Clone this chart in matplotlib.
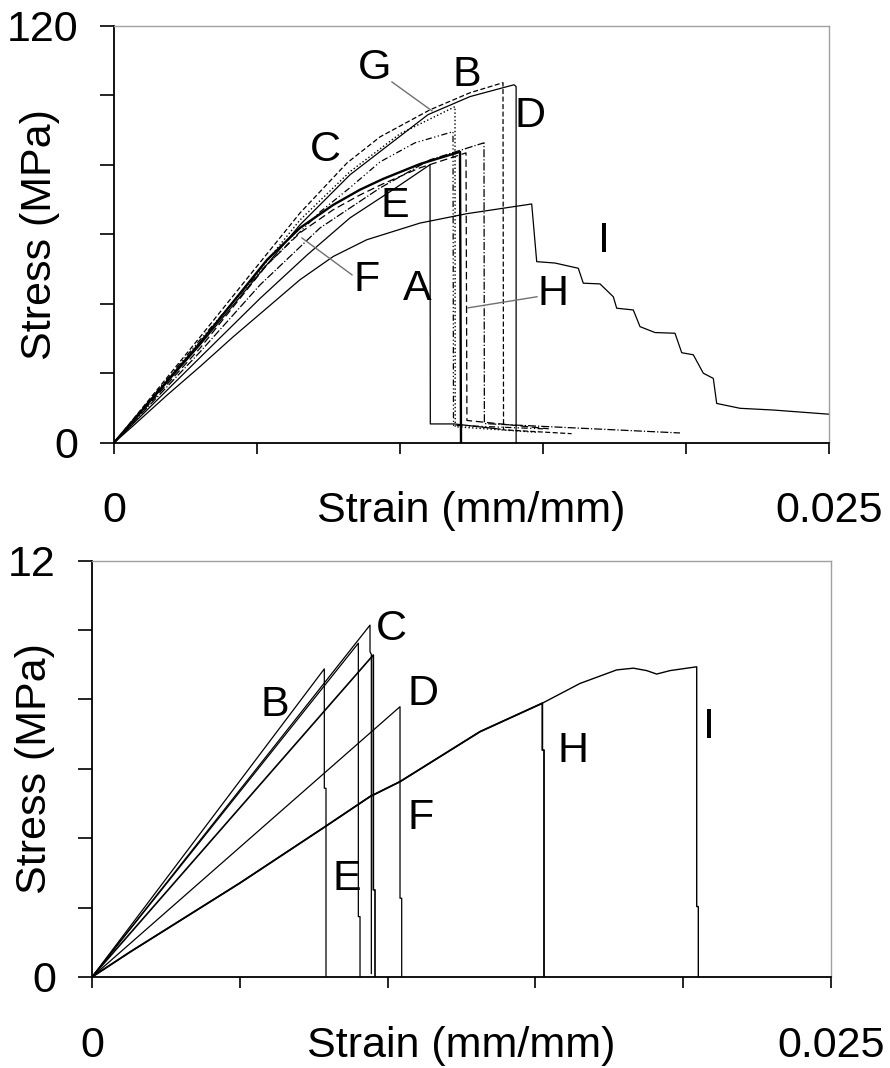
import matplotlib
matplotlib.use("Agg")
import matplotlib.pyplot as plt

plt.rcParams['font.family'] = ['Liberation Sans', 'DejaVu Sans']

# ---- top chart: stress-strain curves (strain mm/mm, stress MPa) ----
top_A_strain = [0, 0.003007, 0.005105, 0.006748, 0.008252, 0.009755, 0.011049, 0.011060, 0.011900, 0.013500]
top_A_stress = [0, 24.5, 41.5, 54.0, 64.7, 72.8, 80.0, 5.4, 5.4, 3.9]
top_B_strain = [0, 0.003007, 0.004755, 0.006503, 0.008252, 0.010000, 0.011923, 0.011930, 0.014800]
top_B_stress = [0, 29.0, 46.2, 64.1, 78.0, 88.9, 96.7, 4.6, 3.0]
top_C_strain = [0, 0.003007, 0.004755, 0.006503, 0.008147, 0.009301, 0.011049, 0.012448, 0.013601, 0.013620, 0.016000]
top_C_stress = [0, 30.4, 48.3, 66.1, 80.5, 88.0, 95.8, 100.7, 103.6, 3.7, 2.6]
top_D_strain = [0, 0.003007, 0.004755, 0.006503, 0.008252, 0.010979, 0.012448, 0.013986, 0.014060, 0.014060]
top_D_stress = [0, 28.1, 45.4, 62.7, 77.1, 94.4, 99.6, 103.0, 102.5, 0]
top_E_strain = [0, 0.003007, 0.005350, 0.006503, 0.007657, 0.008601, 0.009406, 0.010699, 0.012098, 0.012133]
top_E_stress = [0, 28.7, 52.6, 61.8, 68.4, 72.8, 75.9, 80.2, 83.7, 0]
top_F_strain = [0, 0.003007, 0.005105, 0.007203, 0.009301, 0.011049, 0.012937, 0.012950, 0.019790]
top_F_stress = [0, 26.1, 45.4, 61.8, 73.3, 81.4, 86.3, 5.5, 2.8]
top_G_strain = [0, 0.003007, 0.005105, 0.007203, 0.008252, 0.009301, 0.010524, 0.011853, 0.011870, 0.015000]
top_G_stress = [0, 29.6, 49.2, 66.4, 73.4, 80.8, 86.3, 89.5, 5.0, 4.0]
top_H_strain = [0, 0.003007, 0.005350, 0.006503, 0.007657, 0.008601, 0.009406, 0.010699, 0.012308,
                0.012340, 0.014000, 0.015200]
top_H_stress = [0, 27.2, 51.2, 60.4, 67.0, 71.3, 74.5, 79.1, 83.4, 6.4, 5.0, 4.0]
top_I_strain = [0, 0.000675, 0.001843, 0.003007, 0.004171, 0.005339, 0.006503, 0.007668, 0.008836,
                0.010699, 0.012332, 0.014605, 0.014780, 0.015420, 0.016234, 0.016409, 0.016993,
                0.017458, 0.017577, 0.018157, 0.018392, 0.018916, 0.019615, 0.019850, 0.020255,
                0.020605, 0.020955, 0.021073, 0.021888, 0.023052, 0.025000]
top_I_stress = [0, 4.9, 13.6, 21.9, 30.5, 38.7, 46.9, 53.6, 58.4,
                63.2, 65.9, 68.7, 52.1, 51.7, 50.2, 45.9, 45.7,
                42.0, 38.7, 38.2, 33.4, 31.7, 31.5, 25.9, 25.3,
                20.0, 18.5, 11.3, 9.9, 9.4, 8.2]

top_labels = ['G', 'B', 'C', 'D', 'E', 'F', 'A', 'H', 'I']
top_label_x = [0.009126, 0.012343, 0.007378, 0.014545, 0.009825, 0.008846, 0.010594, 0.015350, 0.017133]
top_label_y = [107.9, 105.9, 84.3, 94.1, 68.2, 46.9, 44.3, 42.8, 58.1]

# leader lines (from, to)
top_leader_x = [(0.009720, 0.011119), (0.006573, 0.008322), (0.012378, 0.014790)]
top_leader_y = [(103.8, 95.5), (58.9, 48.3), (38.8, 42.0)]

# ---- bottom chart ----
bot_B_strain = [0, 0.007859, 0.007859, 0.007916, 0.007916]
bot_B_stress = [0, 8.88, 5.44, 5.44, 0]
bot_C_strain = [0, 0.009405, 0.009405, 0.009450, 0.009450]
bot_C_stress = [0, 10.14, 9.37, 9.30, 0.1]
bot_E_strain = [0, 0.009010, 0.009010, 0.009067, 0.009067]
bot_E_stress = [0, 9.62, 1.74, 1.74, 0]
bot_F_strain = [0, 0.009517, 0.009517, 0.009574, 0.009574]
bot_F_stress = [0, 9.28, 2.51, 2.51, 0]
bot_D_strain = [0, 0.010420, 0.010420, 0.010477, 0.010477]
bot_D_stress = [0, 7.79, 2.27, 2.27, 0]
bot_H_strain = [0, 0.001286, 0.005007, 0.007882, 0.009405, 0.010420, 0.013126, 0.015234,
                0.015234, 0.015291, 0.015291]
bot_H_stress = [0, 0.72, 2.71, 4.33, 5.20, 5.63, 7.07, 7.89, 6.54, 6.54, 0]
bot_I_strain = [0, 0.001286, 0.005007, 0.007882, 0.009405, 0.010420, 0.013126, 0.015234,
                0.016509, 0.017750, 0.018313, 0.018765, 0.019103, 0.019554, 0.020457,
                0.020457, 0.020511, 0.020511]
bot_I_stress = [0, 0.72, 2.71, 4.33, 5.20, 5.63, 7.07, 7.89,
                8.46, 8.85, 8.90, 8.83, 8.73, 8.83, 8.94,
                2.03, 2.03, 0]

bot_labels = ['B', 'C', 'D', 'E', 'F', 'H', 'I']
bot_label_x = [0.006191, 0.010115, 0.011198, 0.008627, 0.011130, 0.016272, 0.020873]
bot_label_y = [7.84, 10.03, 8.16, 2.82, 4.58, 6.51, 7.20]

FS = 31

fig = plt.figure(figsize=(8.9, 10.68), dpi=100)
ax1 = fig.add_axes([114/890, 1 - 442.7/1068, 715/890, 417/1068])
ax2 = fig.add_axes([92/890, 1 - 977/1068, 739/890, 416.4/1068])


def style_axes(ax, ymax, ystep, ylabx):
    ax.set_xlim(0, 0.025)
    ax.set_ylim(0, ymax)
    ax.spines['left'].set_color('black')
    ax.spines['bottom'].set_color('black')
    ax.spines['left'].set_linewidth(1.3)
    ax.spines['bottom'].set_linewidth(1.3)
    ax.spines['top'].set_color('#a0a0a0')
    ax.spines['right'].set_color('#a0a0a0')
    ax.spines['top'].set_linewidth(1.0)
    ax.spines['right'].set_linewidth(1.0)
    xt = [i * 0.005 for i in range(6)]
    ax.set_xticks(xt)
    ax.set_xticklabels(['0', '', '', '', '', '0.025'])
    yt = [i * ystep for i in range(7)]
    ax.set_yticks(yt)
    ax.set_yticklabels(['0', '', '', '', '', '', str(ymax)])
    ax.tick_params(axis='x', direction='out', length=8, width=1.2, pad=27, labelsize=FS)
    ax.tick_params(axis='y', direction='out', length=10, width=1.2, pad=16, labelsize=FS)
    ax.set_xlabel('Strain (mm/mm)', fontsize=FS)
    ax.xaxis.set_label_coords(0.5, -0.1165)
    ax.set_ylabel('Stress (MPa)', fontsize=FS)
    ax.yaxis.set_label_coords(ylabx, 0.5)


style_axes(ax1, 120, 20, -0.075)
style_axes(ax2, 12, 2, -0.05)

k = 'black'
ax1.plot(top_A_strain, top_A_stress, color=k, lw=0.9, ls='-')
ax1.plot(top_B_strain, top_B_stress, color=k, lw=1.0, ls=':')
ax1.plot(top_C_strain, top_C_stress, color=k, lw=0.9, ls=(0, (4, 2)))
ax1.plot(top_D_strain, top_D_stress, color=k, lw=0.9, ls='-')
ax1.plot(top_E_strain, top_E_stress, color=k, lw=1.7, ls='-')
ax1.plot(top_F_strain, top_F_stress, color=k, lw=0.9, ls='-.')
ax1.plot(top_G_strain, top_G_stress, color=k, lw=0.9, ls=(0, (5, 2, 1, 2, 1, 2)))
ax1.plot(top_H_strain, top_H_stress, color=k, lw=0.9, ls=(0, (6, 3)))
ax1.plot(top_I_strain, top_I_stress, color=k, lw=0.9, ls='-')

for (x0, x1), (y0, y1) in zip(top_leader_x, top_leader_y):
    ax1.plot([x0, x1], [y0, y1], color='#707070', lw=1.0)

for lab, x, y in zip(top_labels, top_label_x, top_label_y):
    ax1.text(x, y, lab, fontsize=FS, ha='center', va='center')

ax2.plot(bot_B_strain, bot_B_stress, color=k, lw=0.9)
ax2.plot(bot_C_strain, bot_C_stress, color=k, lw=0.9)
ax2.plot(bot_E_strain, bot_E_stress, color=k, lw=0.9)
ax2.plot(bot_F_strain, bot_F_stress, color=k, lw=1.2)
ax2.plot(bot_D_strain, bot_D_stress, color=k, lw=0.9)
ax2.plot(bot_H_strain, bot_H_stress, color=k, lw=1.3)
ax2.plot(bot_I_strain, bot_I_stress, color=k, lw=1.0)

for lab, x, y in zip(bot_labels, bot_label_x, bot_label_y):
    ax2.text(x, y, lab, fontsize=FS, ha='center', va='center')

fig.savefig('out.png', dpi=100)
